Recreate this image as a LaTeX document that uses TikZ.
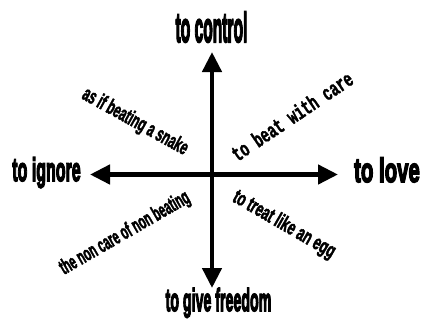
\documentclass[tikz,border=0pt]{standalone}
\usepackage{fontspec}
\usepackage{graphicx}
\usetikzlibrary{arrows.meta}
\newfontfamily\headfont{Liberation Sans Bold}[FakeBold=5]
\newfontfamily\diagfont{Liberation Sans Bold}[FakeBold=2.5]
\newfontfamily\mymono{Liberation Mono Bold}[FakeBold=2]
\begin{document}
\begin{tikzpicture}[x=1bp,y=-1bp,
  arr/.style={line width=4.5bp,
    {Triangle[length=20bp,width=19bp]}-{Triangle[length=20bp,width=19bp]}},
  head/.style={inner sep=0pt, anchor=base, font=\headfont\fontsize{20bp}{20bp}\selectfont},
  diag/.style={inner sep=0pt, anchor=center, font=\diagfont\fontsize{14bp}{14bp}\selectfont},
  monodiag/.style={inner sep=0pt, anchor=center, font=\mymono\fontsize{14.3bp}{14.3bp}\selectfont}]
\useasboundingbox (0,0) rectangle (427,334);
\fill[white] (0,0) rectangle (427,334);
% arrow ends
\coordinate (up) at (212,52);
\coordinate (down) at (212,288);
\coordinate (left) at (90,174.5);
\coordinate (right) at (338,174.5);
\draw[arr] (down) -- (up);
\draw[arr] (left) -- (right);
% headings
\node[head] (ctl) at (211.5,42) {\scalebox{0.78}[2.1]{to control}};
\node[head] (ign) at (46.5,181) {\scalebox{0.8}[1.65]{to ignore}};
\node[head] (lov) at (387,182) {\scalebox{1.02}[1.7]{to love}};
\node[head] (frd) at (218.5,311) {\scalebox{0.71}[1.6]{to give freedom}};
% diagonal texts
\node[diag, rotate=-29] (snake) at (135,122) {\scalebox{0.86}[1.5]{as if beating a snake}};
\node[monodiag, rotate=34] (care) at (292,116) {\scalebox{0.97}[1.5]{to beat with care}};
\node[diag, rotate=30] (non) at (125,233.5) {\scalebox{0.8}[1.5]{the non care of non beating}};
\node[diag, rotate=-30] (egg) at (284,225) {\scalebox{0.93}[1.5]{to treat like an egg}};
\end{tikzpicture}
\end{document}
